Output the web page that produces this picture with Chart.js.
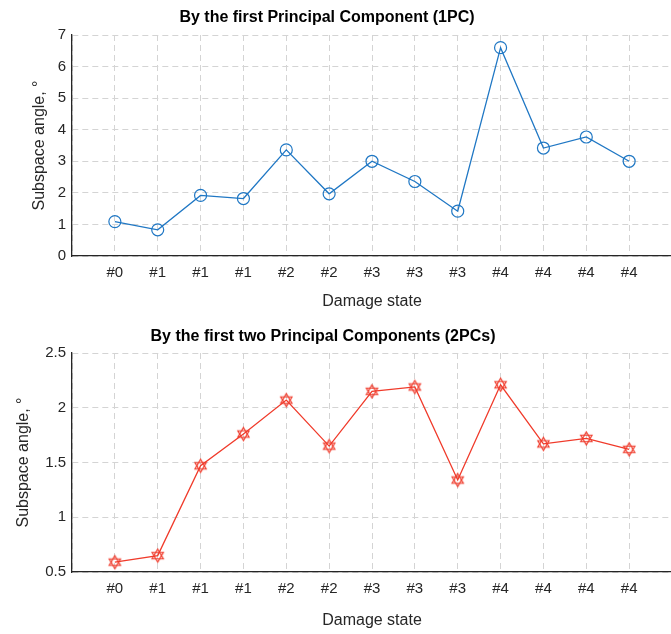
<!DOCTYPE html>
<html>
<head>
<meta charset="utf-8">
<script src="https://cdn.jsdelivr.net/npm/chart.js@4.4.0/dist/chart.umd.min.js"></script>
<style>
  html, body { margin: 0; padding: 0; background: #fff; overflow: hidden; }
  canvas { display: block; }
</style>
</head>
<body>
<canvas id="pc1Chart" width="680" height="317"></canvas>
<canvas id="pc2Chart" width="680" height="317"></canvas>
<script>
const damageLabels = ['#0', '#1', '#1', '#1', '#2', '#2', '#3', '#3', '#3', '#4', '#4', '#4', '#4'];
const pc1Angles = [1.09, 0.83, 1.92, 1.82, 3.36, 1.97, 3.0, 2.36, 1.42, 6.6, 3.42, 3.77, 3.0];
const pc2Angles = [0.59, 0.65, 1.47, 1.76, 2.07, 1.65, 2.15, 2.19, 1.34, 2.21, 1.67, 1.72, 1.62];
const pc1Ticks = [0, 1, 2, 3, 4, 5, 6, 7];
const pc2Ticks = [0.5, 1, 1.5, 2, 2.5];

const FONT = "'Liberation Sans', Arial, sans-serif";

// hollow hexagram marker (matlab 'h')
function hexagram(color, r) {
  const c = document.createElement('canvas');
  const s = Math.ceil(r * 2 + 4);
  c.width = s; c.height = s;
  const g = c.getContext('2d');
  const cx = s / 2, cy = s / 2;
  g.strokeStyle = color;
  g.lineWidth = 1.2;
  [-Math.PI / 2, Math.PI / 2].forEach(a0 => {
    g.beginPath();
    for (let k = 0; k < 3; k++) {
      const a = a0 + k * 2 * Math.PI / 3;
      const x = cx + r * Math.cos(a), y = cy + r * Math.sin(a);
      k === 0 ? g.moveTo(x, y) : g.lineTo(x, y);
    }
    g.closePath();
    g.stroke();
  });
  return c;
}

// title centred like the matlab one, not on the canvas
const axesTitle = {
  id: 'axesTitle',
  afterDraw(chart, args, o) {
    const ctx = chart.ctx;
    ctx.save();
    ctx.font = 'bold 16px ' + FONT;
    ctx.fillStyle = '#000';
    ctx.textAlign = 'center';
    ctx.textBaseline = 'middle';
    ctx.fillText(o.text, o.x, o.y);
    ctx.restore();
  }
};

function makeChart(id, opts) {
  const points = opts.values.map((v, i) => ({ x: i + 1, y: v }));
  return new Chart(document.getElementById(id).getContext('2d'), {
    type: 'line',
    data: {
      datasets: [{
        data: points,
        borderColor: opts.color,
        borderWidth: 1.3,
        pointStyle: opts.pointStyle,
        pointRadius: 6,
        pointHoverRadius: 6,
        pointBorderWidth: 1.2,
        pointBorderColor: opts.color,
        pointBackgroundColor: 'rgba(0,0,0,0)',
        tension: 0
      }]
    },
    plugins: [axesTitle],
    options: {
      responsive: false,
      animation: false,
      layout: { padding: { left: opts.padLeft, right: 0, top: opts.padTop, bottom: 0 } },
      plugins: {
        legend: { display: false },
        tooltip: { enabled: false },
        axesTitle: { text: opts.title, x: opts.titleX, y: opts.titleY }
      },
      scales: {
        x: {
          type: 'linear',
          min: 0,
          max: 14,
          afterBuildTicks: s => { s.ticks = []; for (let i = 0; i <= 14; i++) s.ticks.push({ value: i }); },
          afterFit: s => { s.height = opts.xHeight; },
          ticks: {
            autoSkip: false,
            maxRotation: 0,
            color: '#262626',
            font: { family: FONT, size: 15 },
            padding: 8,
            callback: v => damageLabels[v - 1] || ''
          },
          grid: { color: '#d4d4d4', lineWidth: 1, drawTicks: false },
          border: { color: '#262626', width: 1.3, dash: [6, 4] },
          title: {
            display: true,
            text: 'Damage state',
            color: '#262626',
            font: { family: FONT, size: 16 },
            padding: { top: 0, bottom: opts.xTitlePad }
          }
        },
        y: {
          min: opts.ticks[0],
          max: opts.ticks[opts.ticks.length - 1],
          afterBuildTicks: s => { s.ticks = opts.ticks.map(v => ({ value: v })); },
          afterFit: s => { s.width = opts.yWidth; },
          ticks: {
            color: '#262626',
            font: { family: FONT, size: 15 },
            padding: 6,
            callback: v => String(v)
          },
          grid: { color: '#d4d4d4', lineWidth: 1, drawTicks: false },
          border: { color: '#262626', width: 1.3, dash: [6, 4] },
          title: {
            display: true,
            text: 'Subspace angle, °',
            color: '#262626',
            font: { family: FONT, size: 16 },
            padding: { top: 0, bottom: 0 }
          }
        }
      }
    }
  });
}

makeChart('pc1Chart', {
  title: 'By the first Principal Component (1PC)',
  values: pc1Angles,
  ticks: pc1Ticks,
  color: '#1f77c4',
  pointStyle: 'circle',
  padLeft: 30,
  padTop: 35,
  yWidth: 42,
  xHeight: 61,
  xTitlePad: 6,
  titleX: 327,
  titleY: 18
});

makeChart('pc2Chart', {
  title: 'By the first two Principal Components (2PCs)',
  values: pc2Angles,
  ticks: pc2Ticks,
  color: '#f03a2a',
  pointStyle: hexagram('#f03a2a', 6.5),
  padLeft: 14,
  padTop: 36,
  yWidth: 58,
  xHeight: 62,
  xTitlePad: 4,
  titleX: 323,
  titleY: 20
});
</script>
</body>
</html>
